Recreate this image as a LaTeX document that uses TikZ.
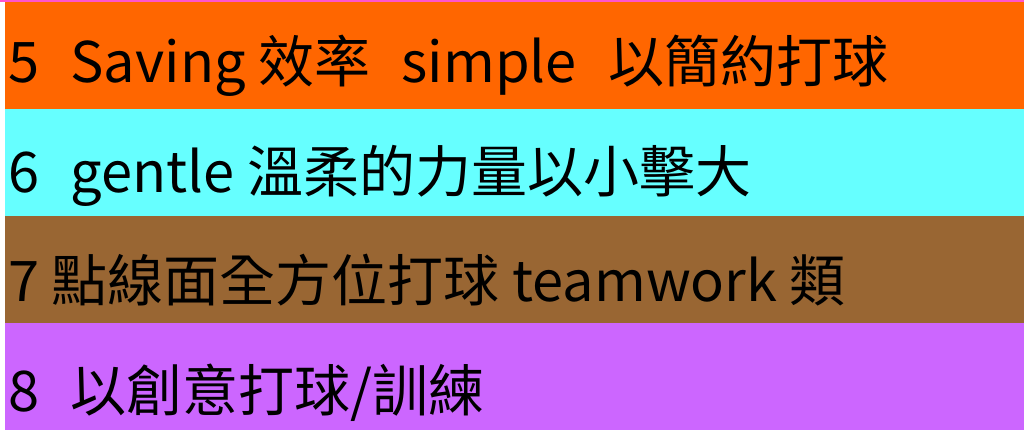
\documentclass[tikz,border=0pt]{standalone}
\usepackage{fontspec}
\setmainfont{Noto Sans CJK TC}
\definecolor{bandorange}{HTML}{FF6600}
\definecolor{bandcyan}{HTML}{66FFFF}
\definecolor{bandbrown}{HTML}{996633}
\definecolor{bandpurple}{HTML}{CC66FF}
\definecolor{topline}{HTML}{FF55CC}
\newcommand{\gapwide}{\hspace{0.56em}}
\tikzset{
	bandtext/.style={anchor=base west, inner sep=0pt, font=\fontsize{56}{62}\selectfont, text=black}
}

\begin{document}
\begin{tikzpicture}[x=1pt, y=1pt]
		%%%%% START %%%%%
		\useasboundingbox[fill=white] (0, 0) rectangle (1024, 436);
		\fill[topline] (0, 434) rectangle (1024, 436);
		
		\fill[bandorange] (5, 327) rectangle (1024, 434);
		\fill[bandcyan] (5, 220) rectangle (1024, 327);
		\fill[bandbrown] (5, 113) rectangle (1024, 220);
		\fill[bandpurple] (5, 6) rectangle (1024, 113);
		
		\node[bandtext] (five) at (8, 353) {5\gapwide Saving 效率\gapwide simple\gapwide 以簡約打球};
		\node[bandtext] (six) at (8, 243) {6\gapwide gentle 溫柔的力量以小擊大};
		\node[bandtext] (seven) at (8, 134) {7 點線面全方位打球 teamwork 類};
		\node[bandtext] (eight) at (8, 24) {8\gapwide 以創意打球/訓練};
		%%%%% END %%%%%
	\end{tikzpicture}
\end{document}
